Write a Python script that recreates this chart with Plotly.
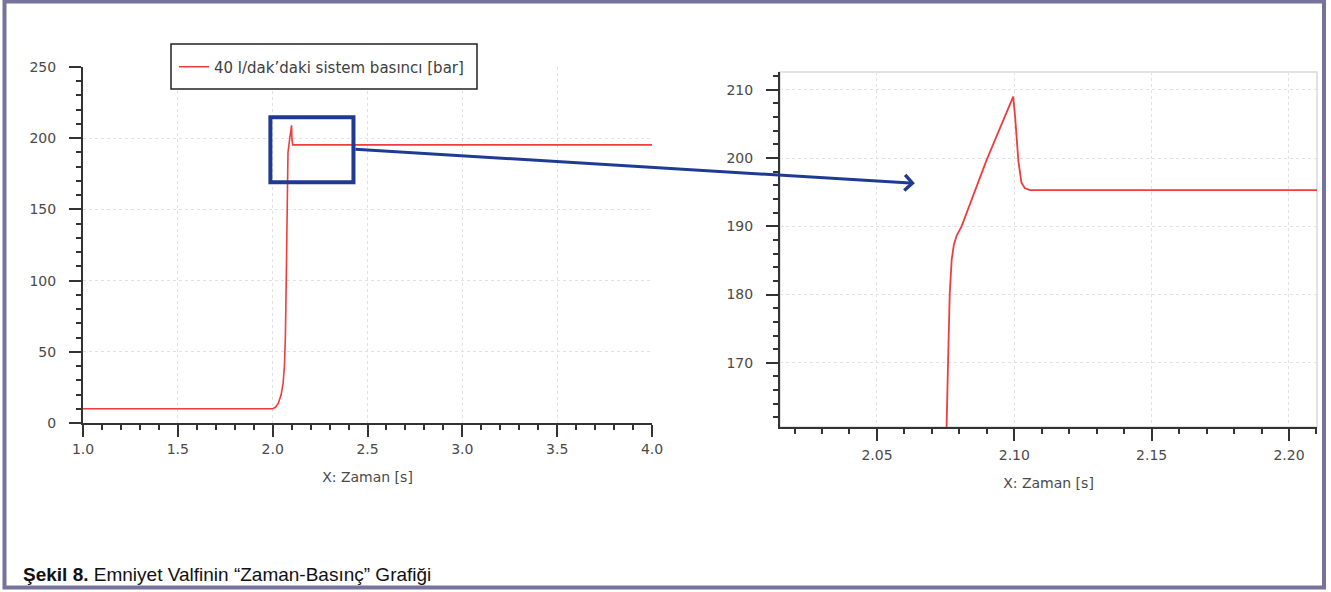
import plotly.graph_objects as go

# ---- data ----
time_s = [1.0, 2.0, 2.015, 2.03, 2.045, 2.055, 2.062, 2.067, 2.071, 2.0735, 2.0752,
          2.0759, 2.0765, 2.0772, 2.0780, 2.0790, 2.0808, 2.0899, 2.0996, 2.1003,
          2.1015, 2.1026, 2.1038, 2.1056, 4.0]
pressure_bar = [10, 10, 11, 14, 20, 28, 40, 60, 95, 130, 158,
                170.4, 180.2, 185.1, 187.3, 188.6, 190.0, 199.7, 209.0, 206.0,
                199.5, 196.4, 195.6, 195.3, 195.3]
series_name = "40 l/dak’daki sistem basıncı [bar]"
x_title = "X: Zaman [s]"
caption_bold = "Şekil 8."
caption_rest = " Emniyet Valfinin “Zaman-Basınç” Grafiği"

W, H = 1331, 592
def px(x):
    return x / W
def py(y):
    return (H - y) / H

RED = "#f03c3c"
BLUE = "#1f3a93"
AX = "#333333"
LBL = "#4a4a4a"
FONT = "DejaVu Sans"

fig = go.Figure()
fig.add_trace(go.Scatter(x=time_s, y=pressure_bar, mode="lines", name=series_name,
                         line=dict(color=RED, width=1.6), xaxis="x", yaxis="y",
                         showlegend=True))
fig.add_trace(go.Scatter(x=time_s, y=pressure_bar, mode="lines", name=series_name,
                         line=dict(color=RED, width=1.8), xaxis="x2", yaxis="y2",
                         showlegend=False))

common = dict(showline=True, linecolor=AX, linewidth=2, ticks="outside", ticklen=12,
              tickwidth=2, tickcolor=AX, showgrid=True, gridcolor="#e2e2e2",
              griddash="dot", gridwidth=1, zeroline=False, automargin=False,
              tickfont=dict(family=FONT, size=14, color=LBL))
title_font = dict(family=FONT, size=14, color=LBL)
minor_common = dict(ticks="outside", ticklen=5, tickwidth=2, tickcolor=AX, showgrid=False)

fig.update_layout(
    width=W, height=H, margin=dict(l=0, r=0, t=0, b=0),
    paper_bgcolor="white", plot_bgcolor="white",
    font=dict(family=FONT, color=LBL),
    xaxis=dict(domain=[px(83), px(652)], range=[1.0, 4.0], dtick=0.5, tick0=1.0,
               tickformat=".1f", anchor="y",
               minor=dict(dtick=0.1, **minor_common),
               title=dict(text=x_title, standoff=16, font=title_font),
               ticklabelstandoff=0, **common),
    yaxis=dict(domain=[py(423), py(67)], range=[0, 250], dtick=50, anchor="x",
               minor=dict(dtick=10, **minor_common),
               ticklabelstandoff=10, **common),
    xaxis2=dict(domain=[px(780), px(1317)], range=[2.0147, 2.2102], dtick=0.05, tick0=2.0,
                tickformat=".2f", anchor="y2",
                minor=dict(dtick=0.01, **minor_common),
                title=dict(text=x_title, standoff=16, font=title_font),
                ticklabelstandoff=2, **common),
    yaxis2=dict(domain=[py(427), py(72)], range=[160.6, 212.6], dtick=10, anchor="x2",
                minor=dict(dtick=2, **minor_common),
                ticklabelstandoff=10, **common),
    legend=dict(x=px(174), y=py(67), xanchor="left", yanchor="middle",
                bgcolor="rgba(0,0,0,0)", borderwidth=0,
                font=dict(family=FONT, size=15, color="#404040")),
)

# legend frame
fig.add_shape(type="rect", xref="paper", yref="paper", x0=px(171), x1=px(477),
              y0=py(89), y1=py(44), line=dict(color="#222222", width=1.5),
              fillcolor="white", layer="above")
# right plot light frame
fig.add_shape(type="rect", xref="paper", yref="paper", x0=px(780), x1=px(1317),
              y0=py(427), y1=py(72), line=dict(color="#d9d9d9", width=1.5), layer="below")
# zoom box on left plot
fig.add_shape(type="rect", xref="x", yref="y", x0=1.988, x1=2.426, y0=169.0, y1=214.7,
              line=dict(color=BLUE, width=4), layer="above")
# arrow to the zoomed view
fig.add_annotation(xref="x2", yref="y2", x=2.0638, y=196.3, ax=-561, ay=-34,
                   axref="pixel", ayref="pixel", text="", showarrow=True,
                   arrowhead=4, arrowsize=1, arrowwidth=3, arrowcolor=BLUE, standoff=0)
# caption
fig.add_annotation(xref="paper", yref="paper", x=px(21), y=py(574), xanchor="left",
                   yanchor="middle", showarrow=False,
                   text=f"<b>{caption_bold}</b>{caption_rest}",
                   font=dict(family="Liberation Sans Narrow, Arial Narrow, Liberation Sans", size=19, color="#111111"))
# outer frame
fig.add_shape(type="rect", xref="paper", yref="paper", x0=px(4.5), x1=px(1324),
              y0=py(587.5), y1=py(1.5), line=dict(color="#77739a", width=4), layer="above")

fig.write_html("out.html", config={"displayModeBar": False},
               post_script="document.body.style.margin='0';document.body.style.overflow='hidden';")
